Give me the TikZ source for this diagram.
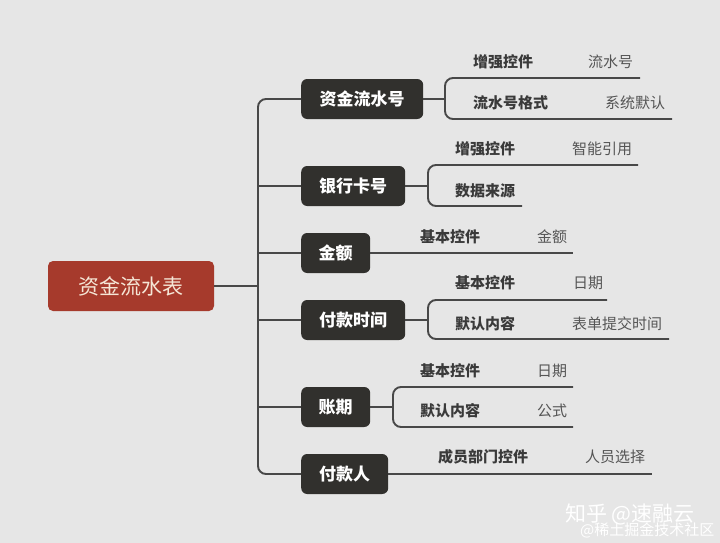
\documentclass[tikz,border=0pt]{standalone}
\usepackage{fontspec}
\newfontfamily\cjk{Noto Sans CJK SC}
\definecolor{bgc}{HTML}{E6E6E6}
\definecolor{rootc}{HTML}{A63A2C}
\definecolor{roottxt}{HTML}{F5E6D6}
\definecolor{boxc}{HTML}{31302D}
\definecolor{linec}{HTML}{484848}
\definecolor{keyc}{HTML}{3A3A3A}
\definecolor{valc}{HTML}{555555}
\tikzset{
 conn/.style={draw=linec, line width=1.9pt},
 rootbox/.style={fill=rootc, rounded corners=5pt, text=roottxt, font=\cjk\fontsize{21}{24}\selectfont, minimum width=166pt, minimum height=50pt, inner sep=0pt},
 brbox/.style={fill=boxc, rounded corners=6pt, text=white, font=\cjk\bfseries\fontsize{17}{20}\selectfont, minimum height=40pt, inner sep=0pt, anchor=west},
 keyl/.style={text=keyc, font=\cjk\bfseries\fontsize{15}{18}\selectfont, anchor=west, inner sep=0pt},
 vall/.style={text=valc, font=\cjk\fontsize{15}{18}\selectfont, anchor=west, inner sep=0pt},
 wm/.style={text=white, anchor=west, inner sep=0pt},
}
\begin{document}
\begin{tikzpicture}[x=1pt,y=-1pt]
\fill[bgc] (0,0) rectangle (720,543);
\useasboundingbox (0,0) rectangle (720,543);

% root
\node[rootbox] (root) at (131,286) {资金流水表};

% branch nodes
\node[brbox, minimum width=122pt] (n1) at (301,99) {资金流水号};
\node[brbox, minimum width=104pt] (n2) at (301,186) {银行卡号};
\node[brbox, minimum width=69pt]  (n3) at (301,253) {金额};
\node[brbox, minimum width=104pt] (n4) at (301,320) {付款时间};
\node[brbox, minimum width=69pt]  (n5) at (301,407) {账期};
\node[brbox, minimum width=87pt]  (n6) at (301,474) {付款人};

% trunk
\coordinate (tj) at (258,286);
\coordinate (ttop) at (258,99);
\coordinate (tbot) at (258,474);
\draw[conn] (root.east) -- (tj);
\draw[conn, rounded corners=8pt] (n1.west) -- (ttop) -- (tbot) -- (n6.west);
\draw[conn] (n2.west) -- (n2.west -| ttop);
\draw[conn] (n3.west) -- (n3.west -| ttop);
\draw[conn] (n4.west) -- (n4.west -| ttop);
\draw[conn] (n5.west) -- (n5.west -| ttop);

% group 1
\node[keyl] (k11) at (473,62) {增强控件};
\node[vall] (v11) at (588,62) {流水号};
\node[keyl] (k12) at (473,103) {流水号格式};
\node[vall] (v12) at (605,103) {系统默认};
\coordinate (g1m) at (445,99);
\coordinate (g1t) at (640,78);
\coordinate (g1b) at (672,119);
\draw[conn] (n1.east) -- (g1m);
\draw[conn, rounded corners=8pt] (g1t) -- (445,78) -- (445,119) -- (g1b);

% group 2
\node[keyl] (k21) at (455,149) {增强控件};
\node[vall] (v21) at (572,149) {智能引用};
\node[keyl] (k22) at (455,191) {数据来源};
\coordinate (g2m) at (428,186);
\coordinate (g2t) at (638,165);
\coordinate (g2b) at (522,206);
\draw[conn] (n2.east) -- (g2m);
\draw[conn, rounded corners=8pt] (g2t) -- (428,165) -- (428,206) -- (g2b);

% group 3
\node[keyl] (k31) at (420,237) {基本控件};
\node[vall] (v31) at (537,237) {金额};
\coordinate (g3e) at (573,253);
\draw[conn] (n3.east) -- (g3e);

% group 4
\node[keyl] (k41) at (455,283) {基本控件};
\node[vall] (v41) at (573,283) {日期};
\node[keyl] (k42) at (455,324) {默认内容};
\node[vall] (v42) at (572,324) {表单提交时间};
\coordinate (g4m) at (428,320);
\coordinate (g4t) at (607,300);
\coordinate (g4b) at (669,339);
\draw[conn] (n4.east) -- (g4m);
\draw[conn, rounded corners=8pt] (g4t) -- (428,300) -- (428,339) -- (g4b);

% group 5
\node[keyl] (k51) at (420,371) {基本控件};
\node[vall] (v51) at (537,371) {日期};
\node[keyl] (k52) at (420,411) {默认内容};
\node[vall] (v52) at (537,411) {公式};
\coordinate (g5m) at (393,407);
\coordinate (g5t) at (573,387);
\coordinate (g5b) at (573,427);
\draw[conn] (n5.east) -- (g5m);
\draw[conn, rounded corners=8pt] (g5t) -- (393,387) -- (393,427) -- (g5b);

% group 6
\node[keyl] (k61) at (438,457) {成员部门控件};
\node[vall] (v61) at (585,457) {人员选择};
\coordinate (g6e) at (652,474);
\draw[conn] (n6.east) -- (g6e);

% watermark
\node[wm, font=\cjk\fontsize{21}{24}\selectfont] (wm1) at (565,514) {知乎 @速融云};
\node[wm, font=\cjk\fontsize{15}{17}\selectfont] (wm2) at (580,530) {@稀土掘金技术社区};
\end{tikzpicture}
\end{document}
